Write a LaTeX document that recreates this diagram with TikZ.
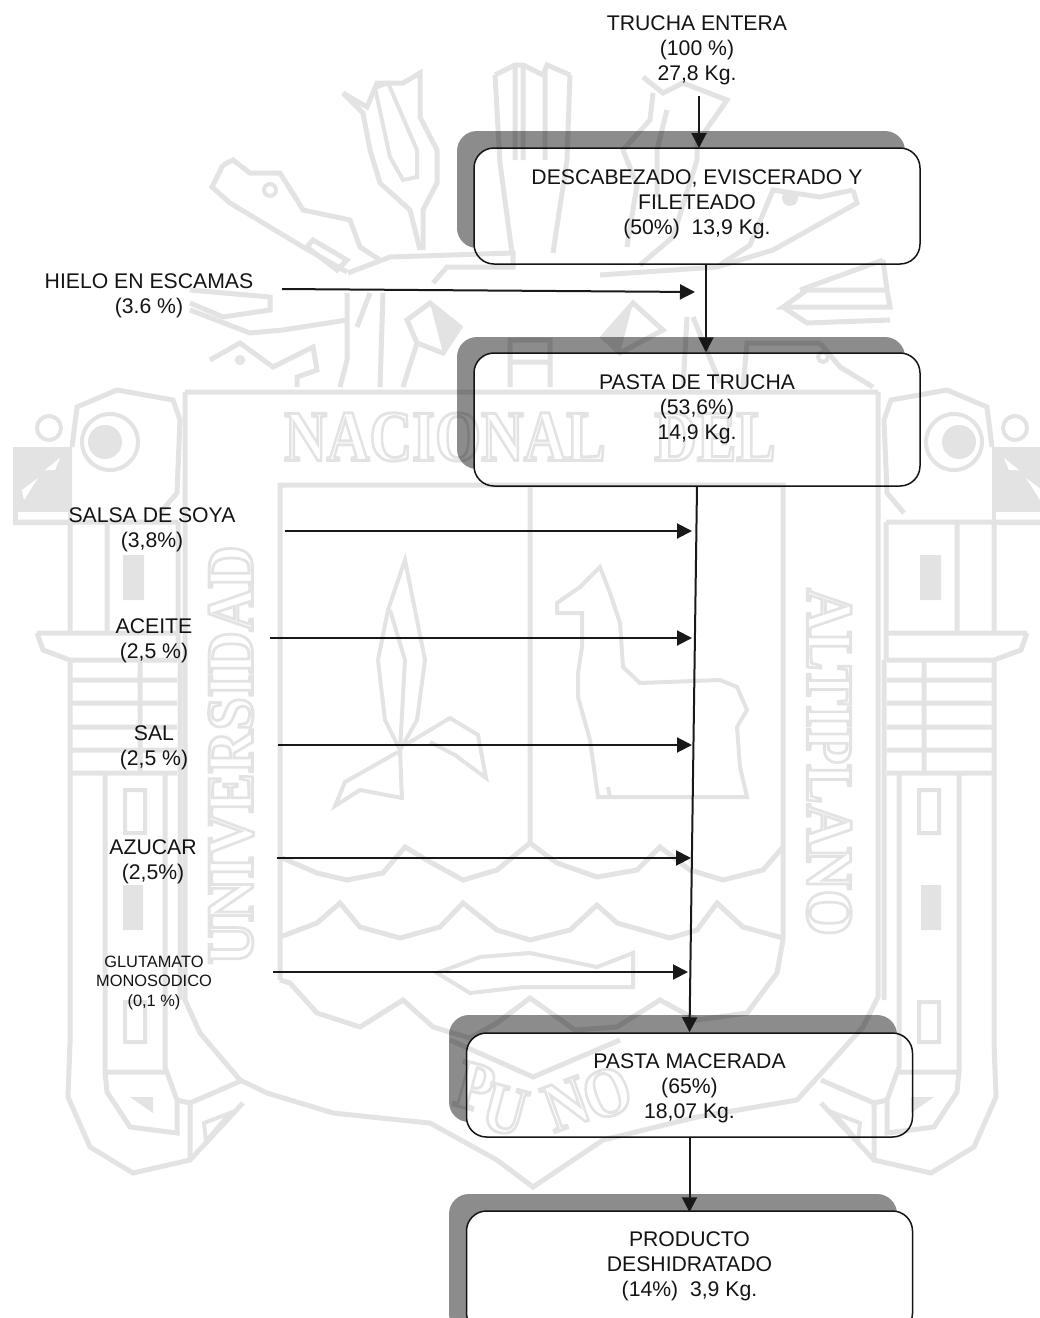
\documentclass[tikz,border=0pt]{standalone}
\usepackage{fontspec}
\setmainfont{Liberation Sans}
\newfontfamily\wmfont{Liberation Serif}
\usetikzlibrary{arrows.meta,calc}
\newcommand{\lift}[1]{\rule[-#1pt]{0pt}{#1pt}}
\newcommand{\hollow}[1]{\special{pdf:code 1 Tr 3 w}#1\special{pdf:code 0 Tr 1 w}}
\tikzset{
  every picture/.append style={x=1pt,y=-1pt},
  txt/.style={align=center,inner sep=0pt,font=\fontsize{21.2}{25}\selectfont,text=black!92},
  smalltxt/.style={align=center,inner sep=0pt,font=\fontsize{16.4}{19.5}\selectfont,text=black!92},
  stepbox/.style={draw=black!92,line width=1.5pt,rounded corners=20pt,fill=white,inner sep=0pt,align=center,
    minimum width=446pt,font=\fontsize{21.2}{25}\selectfont,text=black!92},
  shadowbox/.style={fill=black!45,rounded corners=20pt,inner sep=0pt,minimum width=448pt},
  arr/.style={draw=black!90,line width=2pt,-{Triangle[length=15pt,width=15pt]}},
  wm/.style={draw=black,line width=5pt,line join=miter},
  wmthin/.style={draw=black,line width=4pt},
  wmtext/.style={inner sep=0pt,text=black}
}
\begin{document}
\begin{tikzpicture}
\clip (0,0) rectangle (1040,1318);
\fill[white] (0,0) rectangle (1040,1318);

% shadows and boxes
\node[shadowbox,minimum height=117pt] (s1) at (681,189.5) {};
\node[shadowbox,minimum height=132pt] (s2) at (681,403) {};
\node[shadowbox,minimum height=107pt] (s3) at (673,1068.5) {};
\node[shadowbox,minimum height=140pt] (s4) at (673,1264) {};
\node[stepbox,minimum height=116pt] (box1) at (697,206) {DESCABEZADO, EVISCERADO Y\\FILETEADO\\(50\%)\ \ 13,9 Kg.\lift{8}};
\node[stepbox,minimum height=133pt] (box2) at (697,419.5) {PASTA DE TRUCHA\\(53,6\%)\\14,9 Kg.\lift{24}};
\node[stepbox,minimum height=104pt] (box3) at (689.5,1085) {\rule{0pt}{21pt}PASTA MACERADA\\(65\%)\\18,07 Kg.};
\node[stepbox,minimum height=122pt] (box4) at (689.5,1272) {PRODUCTO\\DESHIDRATADO\\(14\%)\ \ 3,9 Kg.\lift{16}};

% labels
\node[txt] (trucha) at (697,50) {TRUCHA ENTERA\\(100 \%)\\27,8 Kg.};
\node[txt] (hielo) at (149,295.5) {HIELO EN ESCAMAS\\(3.6 \%)};
\node[txt] (soya) at (152,530) {SALSA DE SOYA\\(3,8\%)};
\node[txt] (aceite) at (154,641) {ACEITE\\(2,5 \%)};
\node[txt] (sal) at (154,748) {SAL\\(2,5 \%)};
\node[txt] (azucar) at (153,861.5) {AZUCAR\\(2,5\%)};
\node[smalltxt] (gluta) at (154,982.5) {GLUTAMATO\\MONOSODICO\\(0,1 \%)};

% free ends of the connectors
\coordinate (t0) at (699,96);
\coordinate (t1) at (699,148);
\coordinate (h0) at (282,289);
\coordinate (h1) at (695,292);
\coordinate (a0) at (285,531);  \coordinate (a1) at (692,531);
\coordinate (b0) at (270,638);  \coordinate (b1) at (692,638);
\coordinate (c0) at (278,745);  \coordinate (c1) at (692,745);
\coordinate (d0) at (277,858);  \coordinate (d1) at (691,858);
\coordinate (e0) at (273,972);  \coordinate (e1) at (688,972);

% connectors
\draw[arr] (t0) -- (t1);
\draw[arr] ([xshift=9pt]box1.south) -- ([xshift=9pt]box2.north);
\draw[arr] (h0) -- (h1);
\draw[arr] (box2.south) -- (box3.north);
\draw[arr] (a0) -- (a1);
\draw[arr] (b0) -- (b1);
\draw[arr] (c0) -- (c1);
\draw[arr] (d0) -- (d1);
\draw[arr] (e0) -- (e1);
\draw[arr] (box3.south) -- ([yshift=-2pt]box4.north);

% watermark seal
\begin{scope}[transparency group,opacity=.11]
  % shield
  \draw[wm] (185,392) -- (878,392);
  \draw[wm] (185,392) -- (185,1000) -- (200,1033) -- (240,1080) -- (267,1093) -- (333,1113) -- (400,1120)
     -- (430,1123) -- (497,1160) -- (533,1187) -- (603,1140) -- (697,1117) -- (797,1100) -- (863,1027) -- (878,997) -- (878,392);
  \draw[wm] (280,980) -- (280,485) -- (783,485) -- (783,940);
  \draw[wm] (530,485) -- (530,843);
  % waves
  \draw[wm] (280,857) -- (317,873) -- (347,880) -- (383,873) -- (405,847) -- (430,862) -- (463,880) -- (497,870)
     -- (530,843) -- (557,863) -- (597,877) -- (637,870) -- (660,847) -- (690,870) -- (723,880) -- (763,870) -- (783,847);
  \draw[wm] (280,937) -- (317,923) -- (340,903) -- (360,927) -- (400,938) -- (440,927) -- (463,903) -- (497,930)
     -- (530,940) -- (570,930) -- (597,905) -- (617,923) -- (670,938) -- (697,930) -- (717,903) -- (743,927) -- (783,938);
  \draw[wm] (280,980) -- (290,983) -- (317,1013) -- (360,1027) -- (403,1000) -- (433,1027) -- (470,1038) -- (497,1023)
     -- (530,998) -- (575,1030) -- (617,1027) -- (660,1000) -- (697,1020) -- (747,1013) -- (777,973) -- (783,940);
  \draw[wmthin] (437,973) -- (470,993) -- (523,987) -- (577,987) -- (633,987) -- (633,953) -- (597,967) -- (530,953) -- (480,957) -- cycle;
  \draw[wm] (450,1040) -- (533,1077) -- (620,1040);
  % llama
  \draw[wmthin] (600,567) -- (580,587) -- (557,603) -- (557,613) -- (582,613) -- (582,647) -- (578,673)
    -- (578,697) -- (590,740) -- (598,797) -- (747,797) -- (740,767) -- (737,727) -- (747,710)
    -- (737,687) -- (720,680) -- (640,683) -- (623,667) -- (620,623) -- (610,593) -- cycle;
  \draw[wmthin] (608,787) -- (610,797);
  % plant
  \draw[wmthin] (405,560) -- (388,610) -- (378,660) -- (385,720) -- (400,750) -- (417,720) -- (425,660) -- (413,600) -- cycle;
  \draw[wmthin] (390,610) -- (405,660) -- (400,750);
  \draw[wmthin] (400,750) -- (402,800);
  \draw[wmthin] (398,752) -- (345,782) -- (335,806) -- (360,790) -- (402,798);
  \draw[wmthin] (405,745) -- (450,718) -- (478,735) -- (486,778) -- (455,755) -- (430,742);
  % seal lettering
  \node[wmtext,font=\wmfont\bfseries\fontsize{72}{72}\selectfont,xscale=.82] (wnac) at (445,437) {\hollow{NACIONAL}};
  \node[wmtext,font=\wmfont\bfseries\fontsize{72}{72}\selectfont,xscale=.82] (wdel) at (715,437) {\hollow{DEL}};
  \node[wmtext,font=\wmfont\bfseries\fontsize{66}{66}\selectfont,rotate=90,xscale=.9] (wuni) at (231,755) {\hollow{UNIVERSIDAD}};
  \node[wmtext,font=\wmfont\bfseries\fontsize{66}{66}\selectfont,rotate=-90,xscale=.9] (walt) at (829,762) {\hollow{ALTIPLANO}};
  \node[wmtext,font=\wmfont\bfseries\fontsize{70}{70}\selectfont,rotate=-15,xscale=.85] (wp) at (475,1087) {\hollow{P}};
  \node[wmtext,font=\wmfont\bfseries\fontsize{70}{70}\selectfont,rotate=-15,xscale=.85] (wu) at (505,1110) {\hollow{U}};
  \node[wmtext,font=\wmfont\bfseries\fontsize{70}{70}\selectfont,rotate=20,xscale=.85] (wn) at (566,1104) {\hollow{N}};
  \node[wmtext,font=\wmfont\bfseries\fontsize{70}{70}\selectfont,rotate=20,xscale=.85] (wo) at (607,1093) {\hollow{O}};
  % crest: maize
  \draw[wm] (343,93) -- (367,107) -- (377,83) -- (403,83) -- (420,73) -- (420,117) -- (437,150) -- (437,183) -- (423,210) -- (423,250);
  \draw[wm] (343,93) -- (363,113) -- (370,150) -- (380,183) -- (410,210) -- (420,250);
  \draw[wmthin] (375,88) -- (388,83) -- (417,150) -- (417,177) -- (403,180) -- (390,157) -- cycle;
  % crest: left serpent
  \draw[wm] (223,165) -- (233,160) -- (250,173) -- (280,173) -- (297,200) -- (303,210) -- (350,220) -- (360,247) -- (380,260);
  \draw[wm] (223,165) -- (212,187) -- (230,203) -- (303,247) -- (347,272);
  \draw[wm] (307,247) -- (313,240) -- (347,260) -- (337,270) -- cycle;
  \draw[wmthin] (270,190) circle[radius=6pt];
  % crest: branches
  \draw[wm] (348,273) -- (390,257) -- (513,253) -- (513,267) -- (447,267) -- (433,283);
  \draw[wm] (190,290) -- (270,297) -- (270,310) -- (223,317) -- (190,303);
  \draw[wm] (190,310) -- (250,333) -- (283,330) -- (347,320);
  \draw[wm] (347,293) -- (347,360) -- (340,387);
  \draw[wm] (370,293) -- (357,327);
  \draw[wm] (383,293) -- (380,387);
  \draw[wm] (430,303) -- (460,327) -- (443,353) -- (417,343) -- (407,320) -- cycle;
  \fill[black] (430,303) -- (460,327) -- (443,353) -- cycle;
  \draw[wm] (417,343) -- (403,387);
  \draw[wm] (210,360) -- (240,343) -- (273,367) -- (313,347) -- (317,370) -- (297,377) -- (297,387);
  \draw[wmthin] (240,360) circle[radius=3pt];
  % crest: middle columns and stack
  \draw[wm] (495,75) -- (500,163) -- (512,253);
  \draw[wm] (495,75) -- (515,65) -- (523,65) -- (543,75) -- (547,65) -- (570,75);
  \draw[wm] (515,65) -- (515,160);
  \draw[wm] (523,65) -- (523,160);
  \draw[wm] (545,70) -- (545,160);
  \draw[wm] (570,75) -- (567,160) -- (553,253);
  \draw[wm] (510,387) -- (510,340) -- (550,340) -- (550,387);
  \draw[wm] (510,362) -- (550,362);
  % crest: right plant
  \draw[wm] (643,77) -- (663,93) -- (683,83) -- (727,100) -- (697,143) -- (697,160) -- (673,237) -- (640,265);
  \draw[wm] (653,93) -- (650,120) -- (623,150) -- (637,185) -- (627,247);
  \draw[wm] (667,110) -- (657,150) -- (657,197);
  % crest: right serpent
  \draw[wm] (853,190) -- (820,197) -- (773,190) -- (750,245) -- (717,267);
  \draw[wm] (853,190) -- (857,203) -- (773,250) -- (717,267) -- (600,275);
  \fill[black] (790,198) circle[radius=8pt];
  \draw[wm] (883,260) -- (887,290) -- (890,307) -- (783,307) -- (807,290) -- (887,290);
  \draw[wm] (783,307) -- (807,323) -- (890,320);
  \draw[wm] (883,260) -- (800,290);
  \draw[wm] (820,343) -- (773,343) -- (747,343) -- (743,387);
  \draw[wm] (820,343) -- (840,367) -- (873,387);
  \draw[wmthin] (823,357) circle[radius=5pt];
  \draw[wm] (633,303) -- (603,337) -- (620,353) -- (663,330) -- cycle;
  \fill[black] (633,303) -- (603,337) -- (620,353) -- cycle;
  \draw[wm] (687,317) -- (683,387);
  \draw[wm] (693,317) -- (720,383);
  % pillars: drawn once and mirrored about the axis of the seal
  \foreach \mir/\off in {1/0,-1/1064}{
   \begin{scope}[xshift=\off pt,xscale=\mir]
    \draw[wmthin] (110,442) circle[radius=28pt];
    \fill[black] (105,442) circle[radius=17pt];
    \draw[wmthin] (49,428) circle[radius=12pt];
    \draw[wm] (72,447) -- (77,407) -- (117,390) -- (173,400) -- (180,420) -- (177,493) -- (160,513);
    \fill[black] (13,447) rectangle (72,525);
    \fill[white] (18,512) rectangle (68,520);
    \fill[white] (22,490) -- (38,478) -- (24,500) -- cycle;
    \fill[white] (45,470) -- (60,458) -- (55,470) -- cycle;
    \draw[wm] (13,522) -- (178,522);
    \draw[wm] (70,522) -- (70,633);
    \draw[wm] (107,522) -- (107,633);
    \draw[wm] (178,522) -- (178,660);
    \fill[black] (123,555) rectangle (144,600);
    \draw[wm] (37,633) -- (177,633);
    \draw[wm] (37,633) -- (43,650) -- (70,660) -- (177,660);
    \draw[wm] (70,660) -- (70,1043) -- (68,1097) -- (90,1147) -- (133,1173) -- (190,1160) -- (243,1103);
    \draw[wm] (140,660) -- (140,773);
    \foreach \yy in {680,703,727,750,773}{\draw[wm] (70,\yy) -- (177,\yy);}
    \draw[wm] (105,773) -- (105,1072) -- (107,1092) -- (130,1127) -- (177,1133) -- (177,1100) -- (165,1067) -- (165,773);
    \draw[wm] (103,1072) -- (165,1072);
    \draw[wm] (180,660) -- (180,1000);
    \draw[wm] (190,1103) -- (190,1160);
    \draw[wm] (177,1100) -- (190,1103) -- (243,1080);
    \draw[wmthin] (125,790) rectangle (145,833);
    \fill[black] (123,885) rectangle (143,930);
    \draw[wmthin] (125,1002) rectangle (145,1042);
    \fill[black] (130,1097) -- (153,1097) -- (153,1113) -- cycle;
    \draw[wmthin] (204,1123) -- (230,1113) -- (206,1141) -- cycle;
   \end{scope}
  }
\end{scope}
\end{tikzpicture}
\end{document}
